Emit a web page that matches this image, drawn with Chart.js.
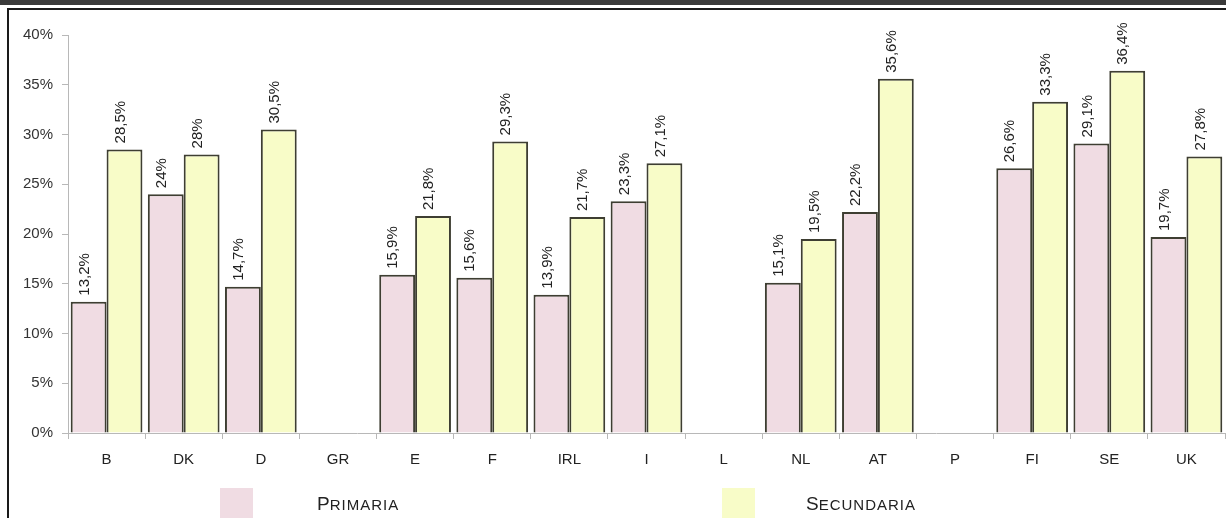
<!DOCTYPE html>
<html>
<head>
<meta charset="utf-8">
<script src="https://cdn.jsdelivr.net/npm/chart.js@4.4.1/dist/chart.umd.min.js"></script>
<style>
  body { margin: 0; background: #fff; }
  #wrap { position: relative; width: 1226px; height: 518px; overflow: hidden; background: #fff; font-family: "Liberation Sans", Arial, sans-serif; }
  #topband { position: absolute; left: 0; top: 0; width: 1226px; height: 5px; background: #3a3a3a; }
  #topline { position: absolute; left: 7px; top: 8px; width: 1219px; height: 2px; background: #1a1a1a; }
  #leftline { position: absolute; left: 7px; top: 8px; width: 2px; height: 510px; background: #1a1a1a; }
  #chartBox { position: absolute; left: 0; top: 0; width: 1226px; height: 518px; }
  .lg-box { position: absolute; width: 33px; height: 32px; top: 488px; }
  .lg-text { position: absolute; top: 493px; color: #222; white-space: nowrap; }
  .lg-text .big { font-size: 19px; }
  .lg-text .small { font-size: 15px; letter-spacing: 1px; }
</style>
</head>
<body>
<div id="wrap">
  <div id="chartBox"><canvas id="eduChart" width="1226" height="518"></canvas></div>
  <div id="topband"></div>
  <div id="topline"></div>
  <div id="leftline"></div>
  <div class="lg-box" style="left:220px; background:#f0dce3;"></div>
  <div class="lg-text" style="left:317px;"><span class="big">P</span><span class="small">RIMARIA</span></div>
  <div class="lg-box" style="left:722px; background:#f8fcc8;"></div>
  <div class="lg-text" style="left:806px;"><span class="big">S</span><span class="small">ECUNDARIA</span></div>
</div>
<script>
const countries = ["B", "DK", "D", "GR", "E", "F", "IRL", "I", "L", "NL", "AT", "P", "FI", "SE", "UK"];
const primaria = [13.2, 24, 14.7, null, 15.9, 15.6, 13.9, 23.3, null, 15.1, 22.2, null, 26.6, 29.1, 19.7];
const secundaria = [28.5, 28, 30.5, null, 21.8, 29.3, 21.7, 27.1, null, 19.5, 35.6, null, 33.3, 36.4, 27.8];
const yTicks = [0, 5, 10, 15, 20, 25, 30, 35, 40];

const fmt = (v) => String(v).replace(".", ",") + "%";

// rotated value labels above each bar
const barLabels = {
  id: "barLabels",
  afterDatasetsDraw(chart) {
    const ctx = chart.ctx;
    ctx.save();
    ctx.font = '15px "Liberation Sans", Arial, sans-serif';
    ctx.fillStyle = "#222";
    ctx.textAlign = "left";
    ctx.textBaseline = "middle";
    chart.data.datasets.forEach((ds, i) => {
      chart.getDatasetMeta(i).data.forEach((bar, j) => {
        const v = ds.data[j];
        if (v == null) return;
        ctx.save();
        ctx.translate(bar.x - 4, bar.y - 6);
        ctx.rotate(-Math.PI / 2);
        ctx.fillText(fmt(v), 0, 0);
        ctx.restore();
      });
    });
    ctx.restore();
  },
};

new Chart(document.getElementById("eduChart"), {
  type: "bar",
  data: {
    labels: countries,
    datasets: [
      {
        label: "Primaria",
        data: primaria,
        backgroundColor: "#f0dce3",
        borderColor: "#3e3e32",
        borderWidth: 2,
        borderSkipped: "bottom",
        categoryPercentage: 0.93,
        barPercentage: 1.0,
      },
      {
        label: "Secundaria",
        data: secundaria,
        backgroundColor: "#f8fcc8",
        borderColor: "#3e3e32",
        borderWidth: 2,
        borderSkipped: "bottom",
        categoryPercentage: 0.93,
        barPercentage: 1.0,
      },
    ],
  },
  options: {
    responsive: false,
    animation: false,
    layout: { padding: { top: 35, right: 1, left: 0, bottom: 0 } },
    plugins: { legend: { display: false }, tooltip: { enabled: false } },
    scales: {
      x: {
        afterFit: (s) => { s.height = 85; },
        grid: { drawOnChartArea: false, color: "#b8b8b8", tickLength: 6, offset: true },
        border: { color: "#b8b8b8", width: 1 },
        ticks: { color: "#222", padding: 12, font: { size: 15, family: '"Liberation Sans", Arial' } },
      },
      y: {
        min: 0,
        max: 40,
        afterFit: (s) => { s.width = 68; },
        afterBuildTicks: (s) => { s.ticks = yTicks.map((v) => ({ value: v })); },
        grid: { drawOnChartArea: false, color: "#b8b8b8", tickLength: 6 },
        border: { color: "#b8b8b8", width: 1 },
        ticks: {
          color: "#333",
          padding: 9,
          font: { size: 15, family: '"Liberation Sans", Arial' },
          callback: (v) => v + "%",
        },
      },
    },
  },
  plugins: [barLabels],
});
</script>
</body>
</html>
